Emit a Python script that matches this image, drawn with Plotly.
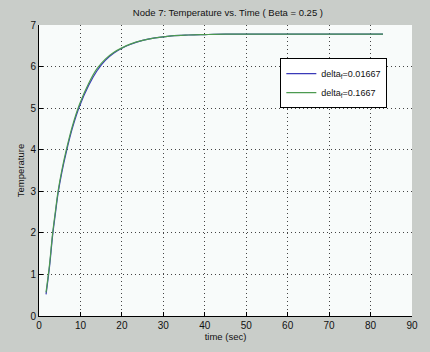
import plotly.graph_objects as go

# time (sec) and temperature readings
time_a = [1.7, 2.5, 3.3, 4.0, 4.6, 5.5, 6.6, 8.0, 9.8, 12, 14, 16, 18, 20, 22, 25, 28, 32, 36, 40, 45, 50, 60, 70, 83]
temp_a = [0.52, 1.15, 1.95, 2.5, 2.95, 3.45, 3.95, 4.5, 5.05, 5.55, 5.9, 6.15, 6.32, 6.44, 6.53, 6.63, 6.69, 6.74, 6.76, 6.77, 6.78, 6.78, 6.78, 6.78, 6.78]
time_b = [1.7, 2.5, 3.3, 4.0, 4.6, 5.5, 6.6, 8.0, 9.8, 12, 14, 16, 18, 20, 22, 25, 28, 32, 36, 40, 45, 50, 60, 70, 83]
temp_b = [0.57, 1.2, 2.0, 2.55, 3.0, 3.5, 4.0, 4.55, 5.1, 5.6, 5.95, 6.18, 6.34, 6.45, 6.54, 6.63, 6.69, 6.74, 6.76, 6.77, 6.78, 6.78, 6.78, 6.78, 6.78]
names = ["delta<sub>f</sub>=0.01667", "delta<sub>f</sub>=0.1667"]
x_ticks = [0, 10, 20, 30, 40, 50, 60, 70, 80, 90]
y_ticks = [0, 1, 2, 3, 4, 5, 6, 7]

fig = go.Figure()
fig.add_trace(go.Scatter(x=time_a, y=temp_a, mode="lines", name=names[0],
                         line=dict(color="#3a3ab8", width=1.2, shape="spline")))
fig.add_trace(go.Scatter(x=time_b, y=temp_b, mode="lines", name=names[1],
                         line=dict(color="#4c9a50", width=1.2, shape="spline")))

fnt = dict(family="Liberation Sans, Arial, sans-serif", size=10, color="#111")
grid = dict(showgrid=True, gridcolor="#444", griddash="1px,3px", gridwidth=1,
            showline=True, linecolor="#000", linewidth=1,
            ticks="inside", ticklen=4, tickcolor="#000", zeroline=False)
fig.update_layout(
    width=430, height=352,
    margin=dict(l=39, r=14, t=25, b=30),
    paper_bgcolor="#c9cdc9",
    plot_bgcolor="#f8fbfa",
    font=fnt,
    title=dict(text="Node 7: Temperature vs. Time ( Beta = 0.25 )", x=0.53, xanchor="center",
               y=0.965, yanchor="middle", font=dict(size=9.5, color="#111")),
    showlegend=True,
    legend=dict(x=0.647, y=0.886, xanchor="left", yanchor="top", bgcolor="#ffffff",
                bordercolor="#000", borderwidth=1, font=dict(size=9),
                tracegroupgap=0, itemwidth=30),
    xaxis=dict(range=[0, 90], tickvals=x_ticks, **grid,
               title=dict(text="time (sec)", standoff=2, font=dict(size=9.5))),
    yaxis=dict(range=[0, 7], tickvals=y_ticks, **grid,
               title=dict(text="Temperature", standoff=4, font=dict(size=9.5))),
)
fig.write_html("out.html")
